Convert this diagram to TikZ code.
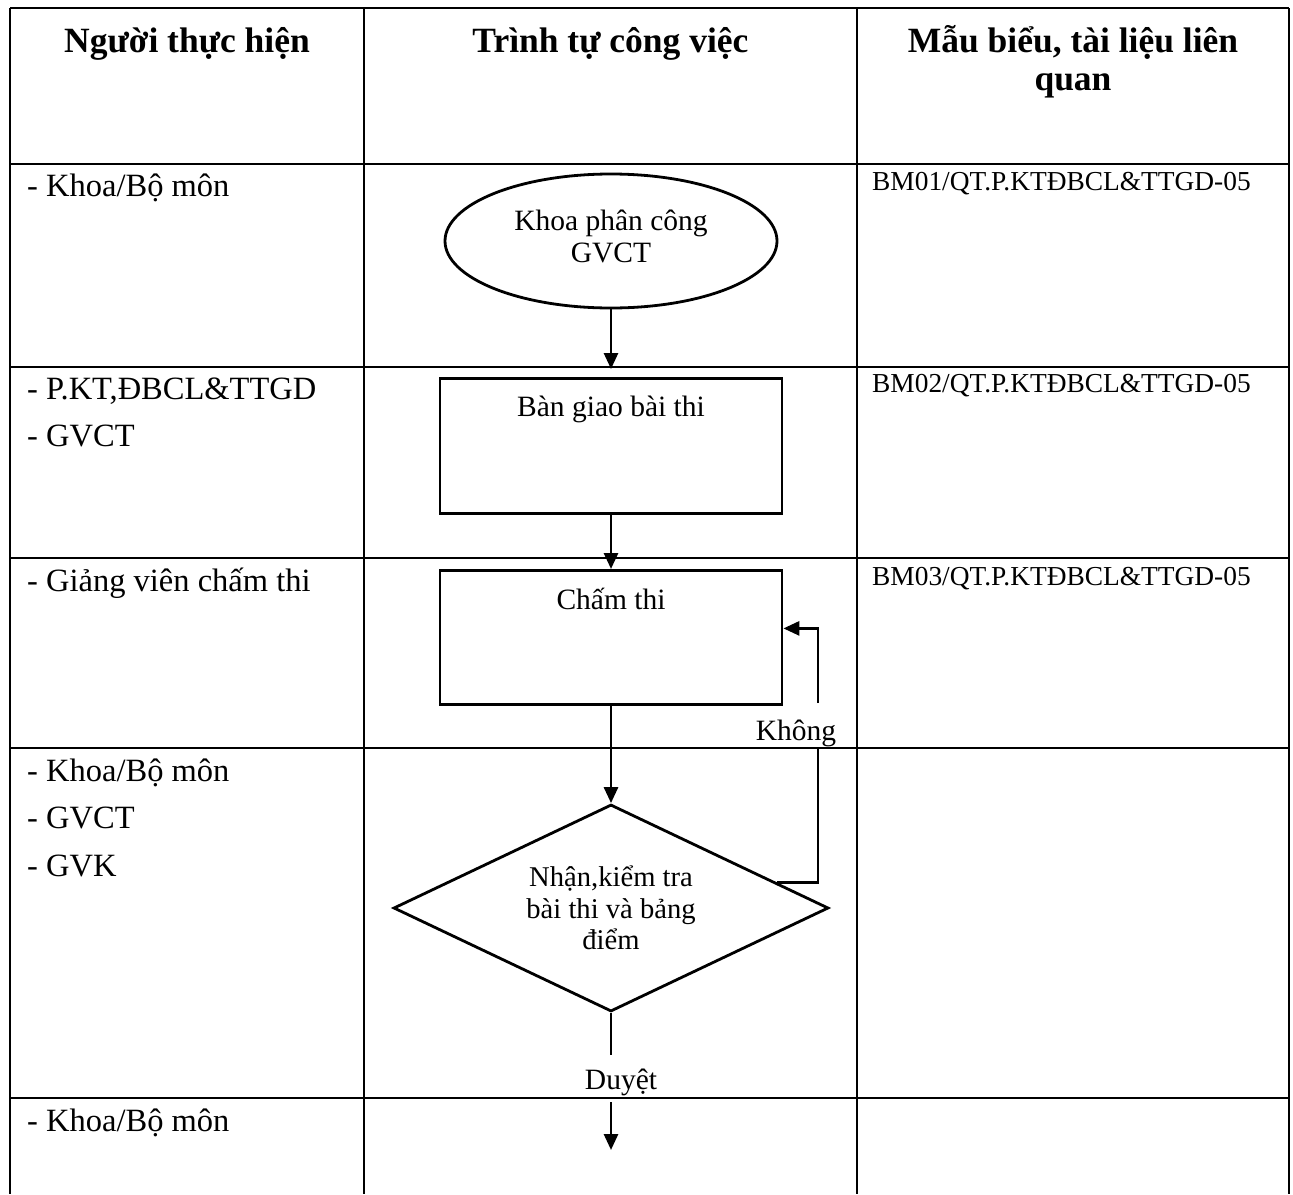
\documentclass[tikz,border=0pt]{standalone}
\usepackage{fontspec}
\setmainfont{Liberation Serif}
\usetikzlibrary{shapes.geometric,arrows.meta,calc}
\begin{document}
\begin{tikzpicture}[x=1pt,y=-1pt,
  tabline/.style={line width=2.2pt,black},
  flow/.style={line width=2.8pt,black},
  arr/.style={flow,-{Triangle[length=16pt,width=14pt]}},
  hdr/.style={font=\fontsize{35.5}{38}\selectfont\bfseries,anchor=base,inner sep=0pt},
  who/.style={font=\fontsize{32.5}{36}\selectfont,anchor=base west,inner sep=0pt},
  form/.style={font=\fontsize{27.4}{30}\selectfont,anchor=base west,inner sep=0pt},
  lbl/.style={font=\fontsize{29.5}{32}\selectfont,inner sep=0pt},
  stepbox/.style={draw,flow,rectangle,minimum width=342pt,inner xsep=0pt,inner ysep=0pt,font=\fontsize{29.5}{32}\selectfont,anchor=north},
]
\useasboundingbox[fill=white] (0,0) rectangle (1293,1194);

% table
\draw[tabline] (10,8) -- (1289,8);
\foreach \y in {164,367,558,748,1098} \draw[tabline] (10,\y) -- (1289,\y);
\foreach \x in {10,364,857,1289} \draw[tabline] (\x,8) -- (\x,1194);

% headers
\node[hdr] (h1) at (187,52) {Người thực hiện};
\node[hdr] (h2) at (610.5,52) {Trình tự công việc};
\node[hdr] (h3a) at (1073,52) {Mẫu biểu, tài liệu liên};
\node[hdr] (h3b) at (1073,90) {quan};

% left column
\node[who] (w1) at (27,196) {- Khoa/Bộ môn};
\node[who] (w2a) at (27,399) {- P.KT,ĐBCL\&TTGD};
\node[who] (w2b) at (27,446) {- GVCT};
\node[who] (w3) at (27,591) {- Giảng viên chấm thi};
\node[who] (w4a) at (27,781) {- Khoa/Bộ môn};
\node[who] (w4b) at (27,828) {- GVCT};
\node[who] (w4c) at (27,876) {- GVK};
\node[who] (w5) at (27,1131) {- Khoa/Bộ môn};

% right column
\node[form] (f1) at (872,190) {BM01/QT.P.KTĐBCL\&TTGD-05};
\node[form] (f2) at (872,392) {BM02/QT.P.KTĐBCL\&TTGD-05};
\node[form] (f3) at (872,585) {BM03/QT.P.KTĐBCL\&TTGD-05};

% flow
\node[ellipse,draw,flow,minimum width=332pt,minimum height=134pt,inner sep=0pt,align=center,
      font=\fontsize{29.5}{32}\selectfont] (e) at (611,241) {Khoa phân công\\GVCT\\[-22pt]\mbox{}};
\node[stepbox,text height=38pt,text depth=97pt] (b1) at (611,377) {Bàn giao bài thi};
\node[stepbox,text height=39pt,text depth=95pt] (b2) at (611,569) {Chấm thi};
\node[diamond,draw,flow,minimum width=435pt,minimum height=207pt,aspect=2.1,inner sep=0pt,align=center,
      font=\fontsize{28.6}{31.5}\selectfont] (d) at (611,908) {Nhận,kiểm tra\\bài thi và bảng\\điểm};

\draw[arr,shorten >=8pt] (e) -- (b1);
\draw[arr] (b1) -- (b2);
\draw[arr] (b2) -- (d);

% loop back "Không"
\coordinate (dx) at ($(d.east)!0.24!(d.north)$);
\coordinate (lx) at (818,0);
\node[lbl,anchor=north,text height=37pt,text depth=8pt] (kh) at (796,703) {Không};
\draw[flow] (dx) -- (dx -| lx) -- (kh.south -| lx);
\draw[arr] (kh.north -| lx) |- ($(b2.east)+(0,-9)$);

% "Duyệt"
\node[lbl,anchor=north,text height=34pt,text depth=13pt] (du) at (621,1055) {Duyệt};
\draw[flow] (d.south) -- (d.south |- du.north);
\coordinate (endpt) at (611,1150);
\draw[arr] (d.south |- du.south) -- (endpt);
\end{tikzpicture}
\end{document}
